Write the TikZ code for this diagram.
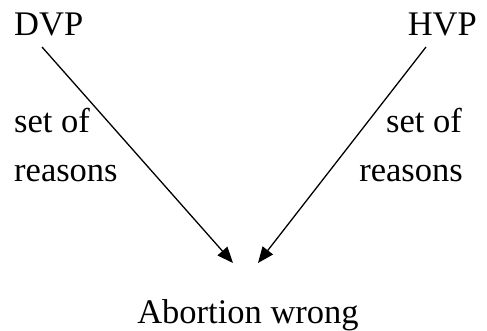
\documentclass[tikz,border=0pt]{standalone}
\usepackage{fontspec}
\setmainfont{Liberation Serif}
\usetikzlibrary{arrows.meta}
\begin{document}
\begin{tikzpicture}[x=1pt,y=-1pt,
  lbl/.style={inner sep=0pt, font=\fontsize{34.5}{40}\selectfont},
  arr/.style={line width=1.3pt, -{Triangle[length=16pt,width=13pt]}}]
\useasboundingbox (0,0) rectangle (487,331);
\node[lbl, anchor=base west] (DVP) at (14,36) {DVP};
\node[lbl, anchor=base east] (HVP) at (477,36) {HVP};
\node[lbl, anchor=base west] (setL) at (14,133) {set of};
\node[lbl, anchor=base west] (reaL) at (14,182) {reasons};
\node[lbl, anchor=base east] (setR) at (462,133) {set of};
\node[lbl, anchor=base east] (reaR) at (463,182) {reasons};
\node[lbl, anchor=base] (abort) at (248,323) {Abortion wrong};
\coordinate (dStart) at (42,47);
\coordinate (dEnd) at (233,263);
\coordinate (hStart) at (426,47);
\coordinate (hEnd) at (258,263);
\draw[arr] (dStart) -- (dEnd);
\draw[arr] (hStart) -- (hEnd);
\end{tikzpicture}
\end{document}
